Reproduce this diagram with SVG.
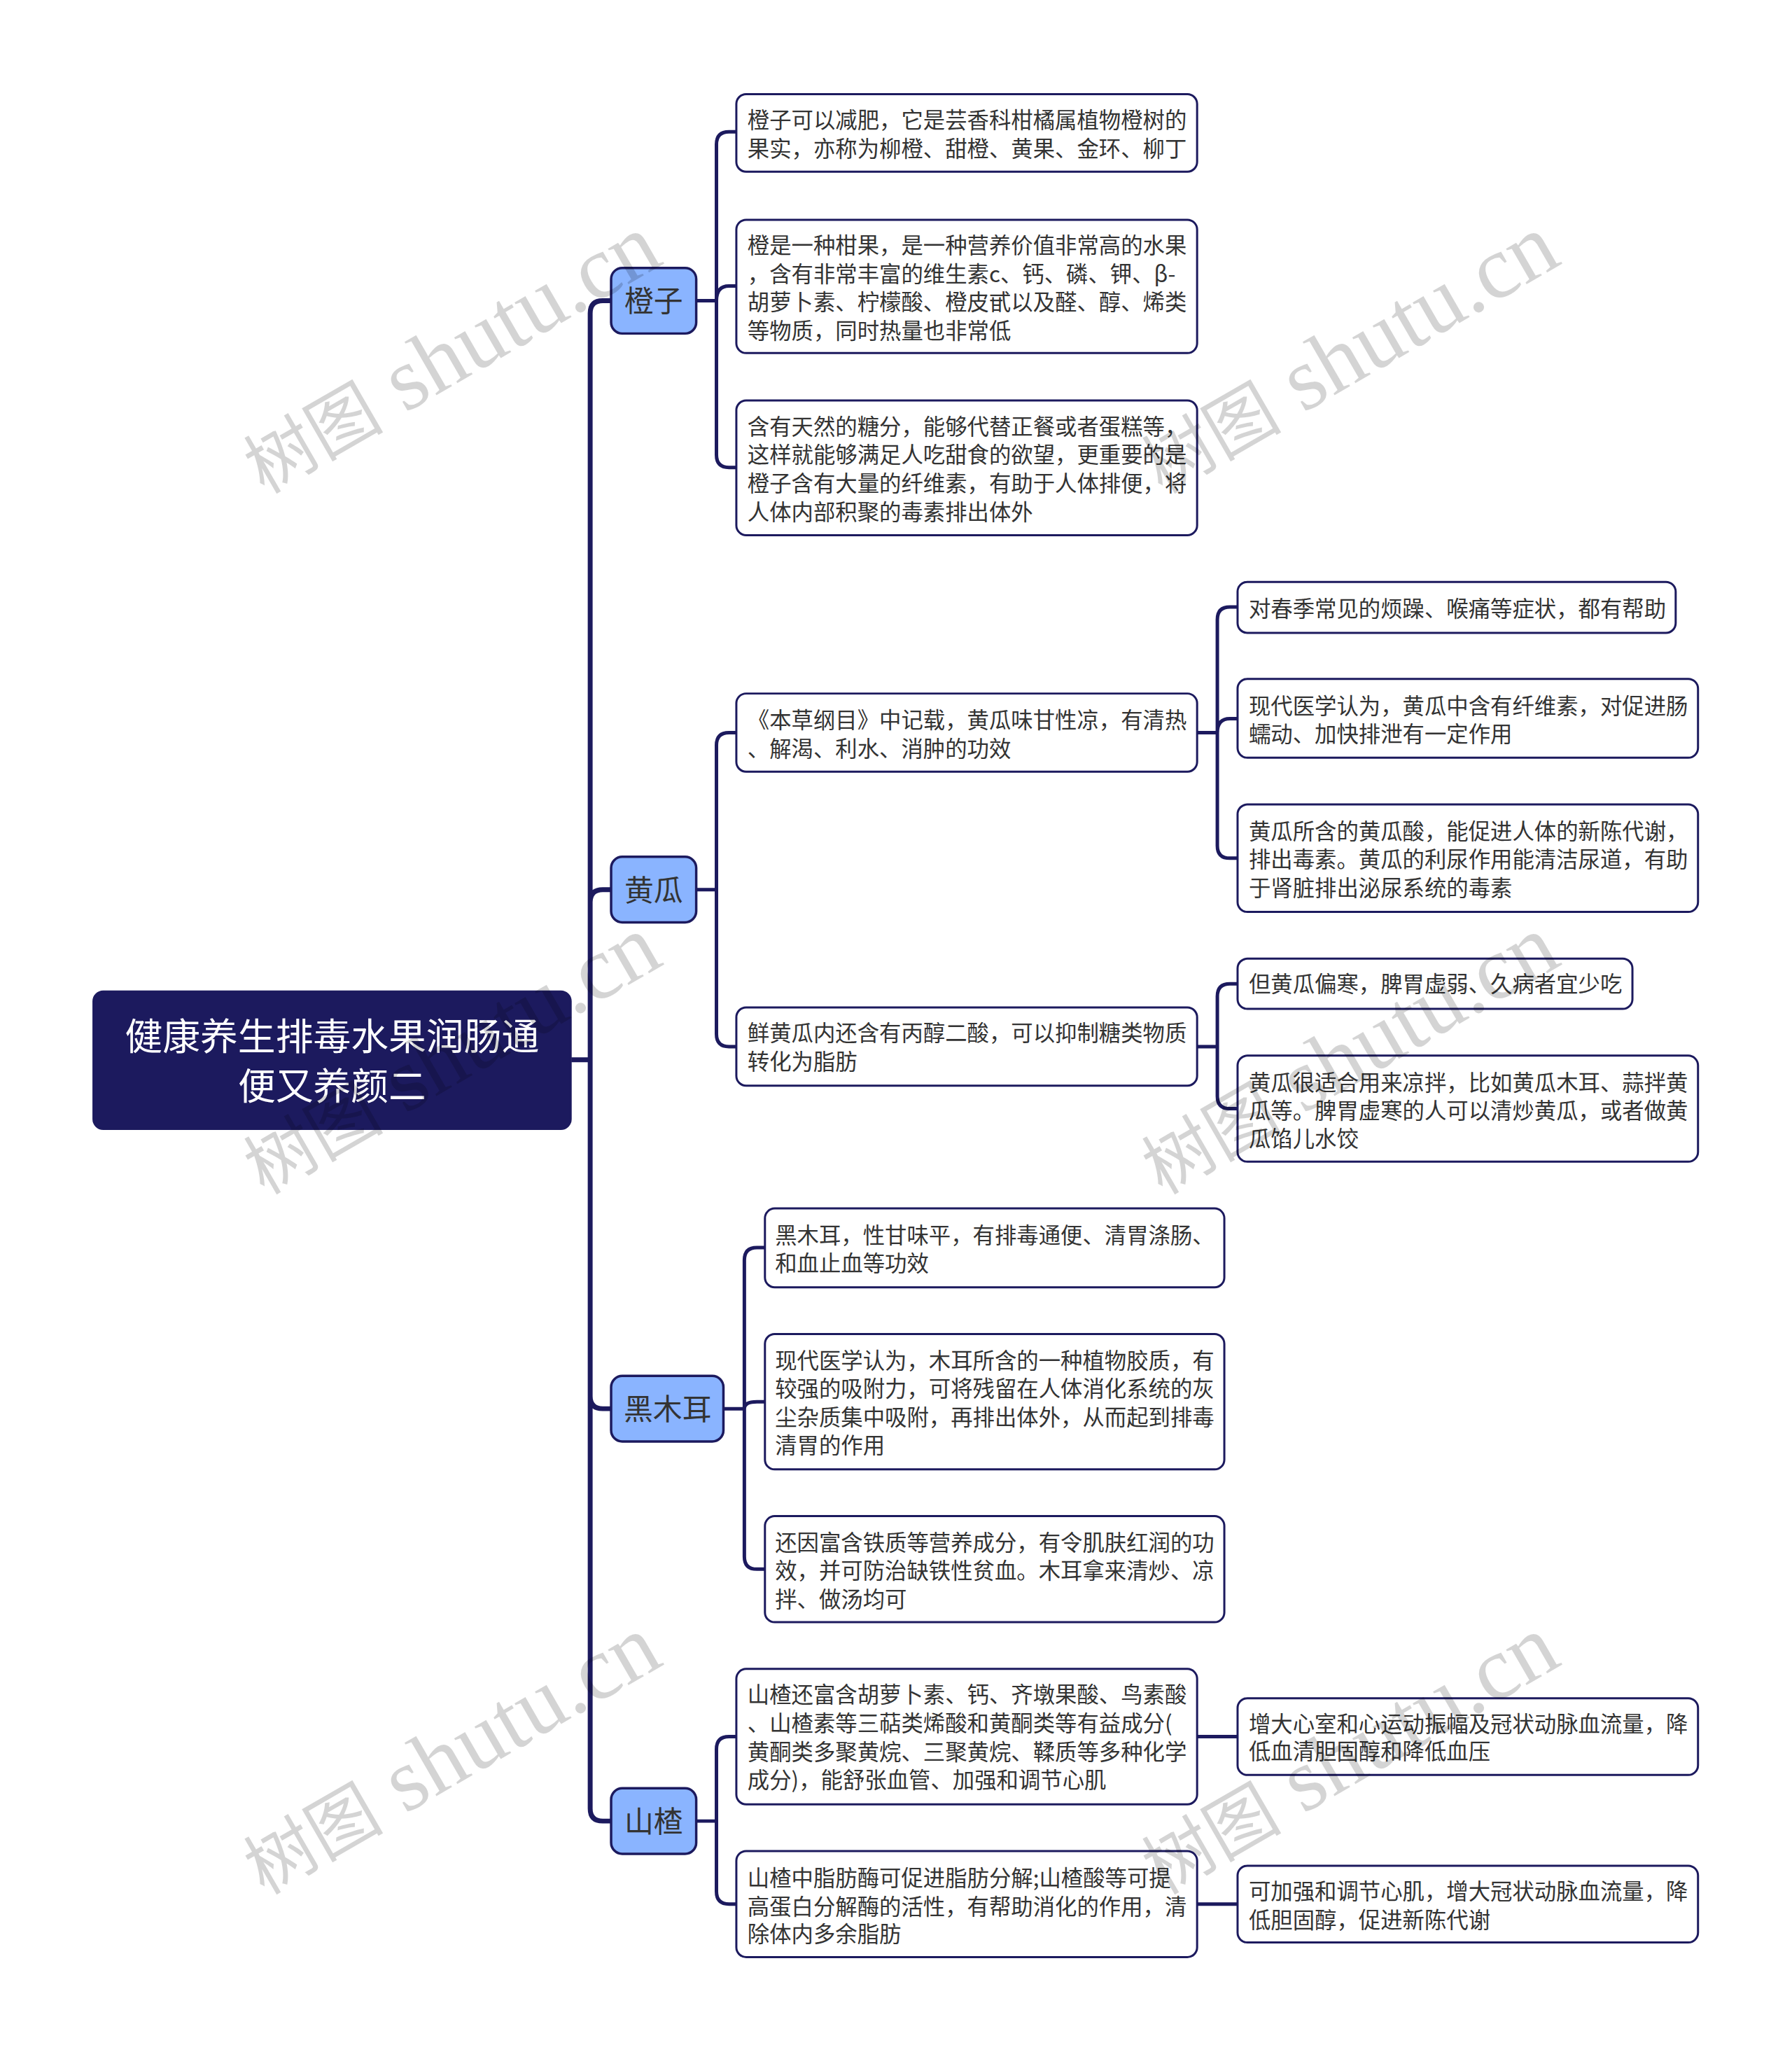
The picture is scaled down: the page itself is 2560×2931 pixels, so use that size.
<svg xmlns="http://www.w3.org/2000/svg" width="2560" height="2931" viewBox="0 0 2560 2931">
<style>
text{font-family:"Noto Sans CJK SC","Noto Sans",sans-serif}
.bg{fill:#fff}
.leaf{fill:#fff;stroke:#1c1a5e;stroke-width:3}
.branch{fill:#8ab4ff;stroke:#1c1a5e;stroke-width:3.5}
.root{fill:#1c1a5e;stroke:#1c1a5e;stroke-width:3}
.t{font-size:31.5px;fill:#333}
.bt{font-size:42px;fill:#333;text-anchor:middle}
.rt{font-size:54px;fill:#fff;text-anchor:middle}
.c1,.c2{fill:none;stroke:#1c1a5e;stroke-linejoin:round}
.c1{stroke-width:7}
.c2{stroke-width:5}
text.wm{font-family:"Liberation Serif","Noto Sans CJK SC",serif;font-size:128px;fill:#000;fill-opacity:.17;text-anchor:middle}
.wc{font-size:100px}
</style>
<rect class="bg" width="2560" height="2931"/>
<g transform="scale(0.9966)">
<g id="connectors">
<path class="c1" d="M819,1519H846M846,1519V449Q846,431 864,431H876M846,1519V1293Q846,1275 864,1275H876M846,1519V2001Q846,2019 864,2019H876M846,1519V2592Q846,2610 864,2610H876"/>
<path class="c2" d="M998,431H1027M1027,431V207Q1027,189 1045,189H1056M1027,431Q1027,410 1045,410H1056M1027,431V652Q1027,670 1045,670H1056"/>
<path class="c2" d="M998,1275H1027M1027,1275V1068Q1027,1050 1045,1050H1056M1027,1275V1482Q1027,1500 1045,1500H1056"/>
<path class="c2" d="M1716,1050H1745M1745,1050V888Q1745,870 1763,870H1774M1745,1050Q1745,1030 1763,1030H1774M1745,1050V1212Q1745,1230 1763,1230H1774"/>
<path class="c2" d="M1716,1500H1745M1745,1500V1428Q1745,1410 1763,1410H1774M1745,1500V1571Q1745,1589 1763,1589H1774"/>
<path class="c2" d="M1037,2019H1067M1067,2019V1806Q1067,1788 1085,1788H1097M1067,2019Q1067,2009 1085,2009H1097M1067,2019V2231Q1067,2249 1085,2249H1097"/>
<path class="c2" d="M998,2610H1027M1027,2610V2507Q1027,2489 1045,2489H1056M1027,2610V2711Q1027,2729 1045,2729H1056"/>
<path class="c2" d="M1716,2489H1774"/>
<path class="c2" d="M1716,2729H1774"/>
</g>
<g id="root"><rect class="root" x="134" y="1421" width="684" height="197" rx="14"/>
<text class="rt" x="476" y="1505">健康养生排毒水果润肠通</text><text class="rt" x="476" y="1576">便又养颜二</text></g>
<g id="n-chengzi"><rect class="branch" x="876" y="384" width="122" height="94" rx="16"/><text class="bt" x="937" y="447">橙子</text></g>
<g id="n-huanggua"><rect class="branch" x="876" y="1228" width="122" height="94" rx="16"/><text class="bt" x="937" y="1291">黄瓜</text></g>
<g id="n-heimuer"><rect class="branch" x="876" y="1972" width="161" height="94" rx="16"/><text class="bt" x="957" y="2035">黑木耳</text></g>
<g id="n-shanzha"><rect class="branch" x="876" y="2563" width="122" height="94" rx="16"/><text class="bt" x="937" y="2626">山楂</text></g>
<g id="a1"><rect class="leaf" x="1055.5" y="135" width="660.5" height="111" rx="14"/>
<text class="t" x="1071.5" y="183.5">橙子可以减肥，它是芸香科柑橘属植物橙树的</text><text class="t" x="1071.5" y="224.5">果实，亦称为柳橙、甜橙、黄果、金环、柳丁</text></g>
<g id="a2"><rect class="leaf" x="1055.5" y="315" width="660.5" height="191" rx="14"/>
<text class="t" x="1071.5" y="363.5">橙是一种柑果，是一种营养价值非常高的水果</text><text class="t" x="1071.5" y="404.5">，含有非常丰富的维生素c、钙、磷、钾、β-</text><text class="t" x="1071.5" y="444.5">胡萝卜素、柠檬酸、橙皮甙以及醛、醇、烯类</text><text class="t" x="1071.5" y="485.5">等物质，同时热量也非常低</text></g>
<g id="a3"><rect class="leaf" x="1055.5" y="574" width="660.5" height="193" rx="14"/>
<text class="t" x="1071.5" y="623.5">含有天然的糖分，能够代替正餐或者蛋糕等，</text><text class="t" x="1071.5" y="663.5">这样就能够满足人吃甜食的欲望，更重要的是</text><text class="t" x="1071.5" y="704.5">橙子含有大量的纤维素，有助于人体排便，将</text><text class="t" x="1071.5" y="745.5">人体内部积聚的毒素排出体外</text></g>
<g id="b1"><rect class="leaf" x="1055.5" y="994" width="660.5" height="112" rx="14"/>
<text class="t" x="1071.5" y="1043.5">《本草纲目》中记载，黄瓜味甘性凉，有清热</text><text class="t" x="1071.5" y="1084.5">、解渴、利水、消肿的功效</text></g>
<g id="b1a"><rect class="leaf" x="1774" y="834" width="628" height="73" rx="14"/>
<text class="t" x="1790" y="884">对春季常见的烦躁、喉痛等症状，都有帮助</text></g>
<g id="b1b"><rect class="leaf" x="1774" y="973" width="660" height="113" rx="14"/>
<text class="t" x="1790" y="1023">现代医学认为，黄瓜中含有纤维素，对促进肠</text><text class="t" x="1790" y="1064">蠕动、加快排泄有一定作用</text></g>
<g id="b1c"><rect class="leaf" x="1774" y="1153" width="660" height="154" rx="14"/>
<text class="t" x="1790" y="1203">黄瓜所含的黄瓜酸，能促进人体的新陈代谢，</text><text class="t" x="1790" y="1243">排出毒素。黄瓜的利尿作用能清洁尿道，有助</text><text class="t" x="1790" y="1284">于肾脏排出泌尿系统的毒素</text></g>
<g id="b2"><rect class="leaf" x="1055.5" y="1444" width="660.5" height="112" rx="14"/>
<text class="t" x="1071.5" y="1492.5">鲜黄瓜内还含有丙醇二酸，可以抑制糖类物质</text><text class="t" x="1071.5" y="1533.5">转化为脂肪</text></g>
<g id="b2a"><rect class="leaf" x="1774" y="1374" width="566" height="72" rx="14"/>
<text class="t" x="1790" y="1422">但黄瓜偏寒，脾胃虚弱、久病者宜少吃</text></g>
<g id="b2b"><rect class="leaf" x="1774" y="1513" width="660" height="152" rx="14"/>
<text class="t" x="1790" y="1563">黄瓜很适合用来凉拌，比如黄瓜木耳、蒜拌黄</text><text class="t" x="1790" y="1603">瓜等。脾胃虚寒的人可以清炒黄瓜，或者做黄</text><text class="t" x="1790" y="1644">瓜馅儿水饺</text></g>
<g id="c1"><rect class="leaf" x="1096.5" y="1732" width="658.5" height="113" rx="14"/>
<text class="t" x="1111" y="1782">黑木耳，性甘味平，有排毒通便、清胃涤肠、</text><text class="t" x="1111" y="1822">和血止血等功效</text></g>
<g id="c2"><rect class="leaf" x="1096.5" y="1912" width="658.5" height="194" rx="14"/>
<text class="t" x="1111" y="1962">现代医学认为，木耳所含的一种植物胶质，有</text><text class="t" x="1111" y="2002">较强的吸附力，可将残留在人体消化系统的灰</text><text class="t" x="1111" y="2043">尘杂质集中吸附，再排出体外，从而起到排毒</text><text class="t" x="1111" y="2083">清胃的作用</text></g>
<g id="c3"><rect class="leaf" x="1096.5" y="2173" width="658.5" height="152" rx="14"/>
<text class="t" x="1111" y="2223">还因富含铁质等营养成分，有令肌肤红润的功</text><text class="t" x="1111" y="2263">效，并可防治缺铁性贫血。木耳拿来清炒、凉</text><text class="t" x="1111" y="2304">拌、做汤均可</text></g>
<g id="d1"><rect class="leaf" x="1055.5" y="2392" width="660.5" height="194" rx="14"/>
<text class="t" x="1071.5" y="2440.5">山楂还富含胡萝卜素、钙、齐墩果酸、鸟素酸</text><text class="t" x="1071.5" y="2481.5">、山楂素等三萜类烯酸和黄酮类等有益成分(</text><text class="t" x="1071.5" y="2522.5">黄酮类多聚黄烷、三聚黄烷、鞣质等多种化学</text><text class="t" x="1071.5" y="2562.5">成分)，能舒张血管、加强和调节心肌</text></g>
<g id="d1a"><rect class="leaf" x="1774" y="2434" width="660" height="110" rx="14"/>
<text class="t" x="1790" y="2482">增大心室和心运动振幅及冠状动脉血流量，降</text><text class="t" x="1790" y="2522">低血清胆固醇和降低血压</text></g>
<g id="d2"><rect class="leaf" x="1055.5" y="2653" width="660.5" height="152" rx="14"/>
<text class="t" x="1071.5" y="2703.5">山楂中脂肪酶可促进脂肪分解;山楂酸等可提</text><text class="t" x="1071.5" y="2744.5">高蛋白分解酶的活性，有帮助消化的作用，清</text><text class="t" x="1071.5" y="2783.5">除体内多余脂肪</text></g>
<g id="d2a"><rect class="leaf" x="1774" y="2674" width="660" height="110" rx="14"/>
<text class="t" x="1790" y="2722">可加强和调节心肌，增大冠状动脉血流量，降</text><text class="t" x="1790" y="2763">低胆固醇，促进新陈代谢</text></g>
</g>
<g id="watermark">
<text class="wm" transform="translate(664,541) rotate(-30)"><tspan class="wc">树图</tspan> shutu.cn</text>
<text class="wm" transform="translate(1947,541) rotate(-30)"><tspan class="wc">树图</tspan> shutu.cn</text>
<text class="wm" transform="translate(664,1542) rotate(-30)"><tspan class="wc">树图</tspan> shutu.cn</text>
<text class="wm" transform="translate(1947,1542) rotate(-30)"><tspan class="wc">树图</tspan> shutu.cn</text>
<text class="wm" transform="translate(664,2542) rotate(-30)"><tspan class="wc">树图</tspan> shutu.cn</text>
<text class="wm" transform="translate(1947,2542) rotate(-30)"><tspan class="wc">树图</tspan> shutu.cn</text>
</g>
</svg>
